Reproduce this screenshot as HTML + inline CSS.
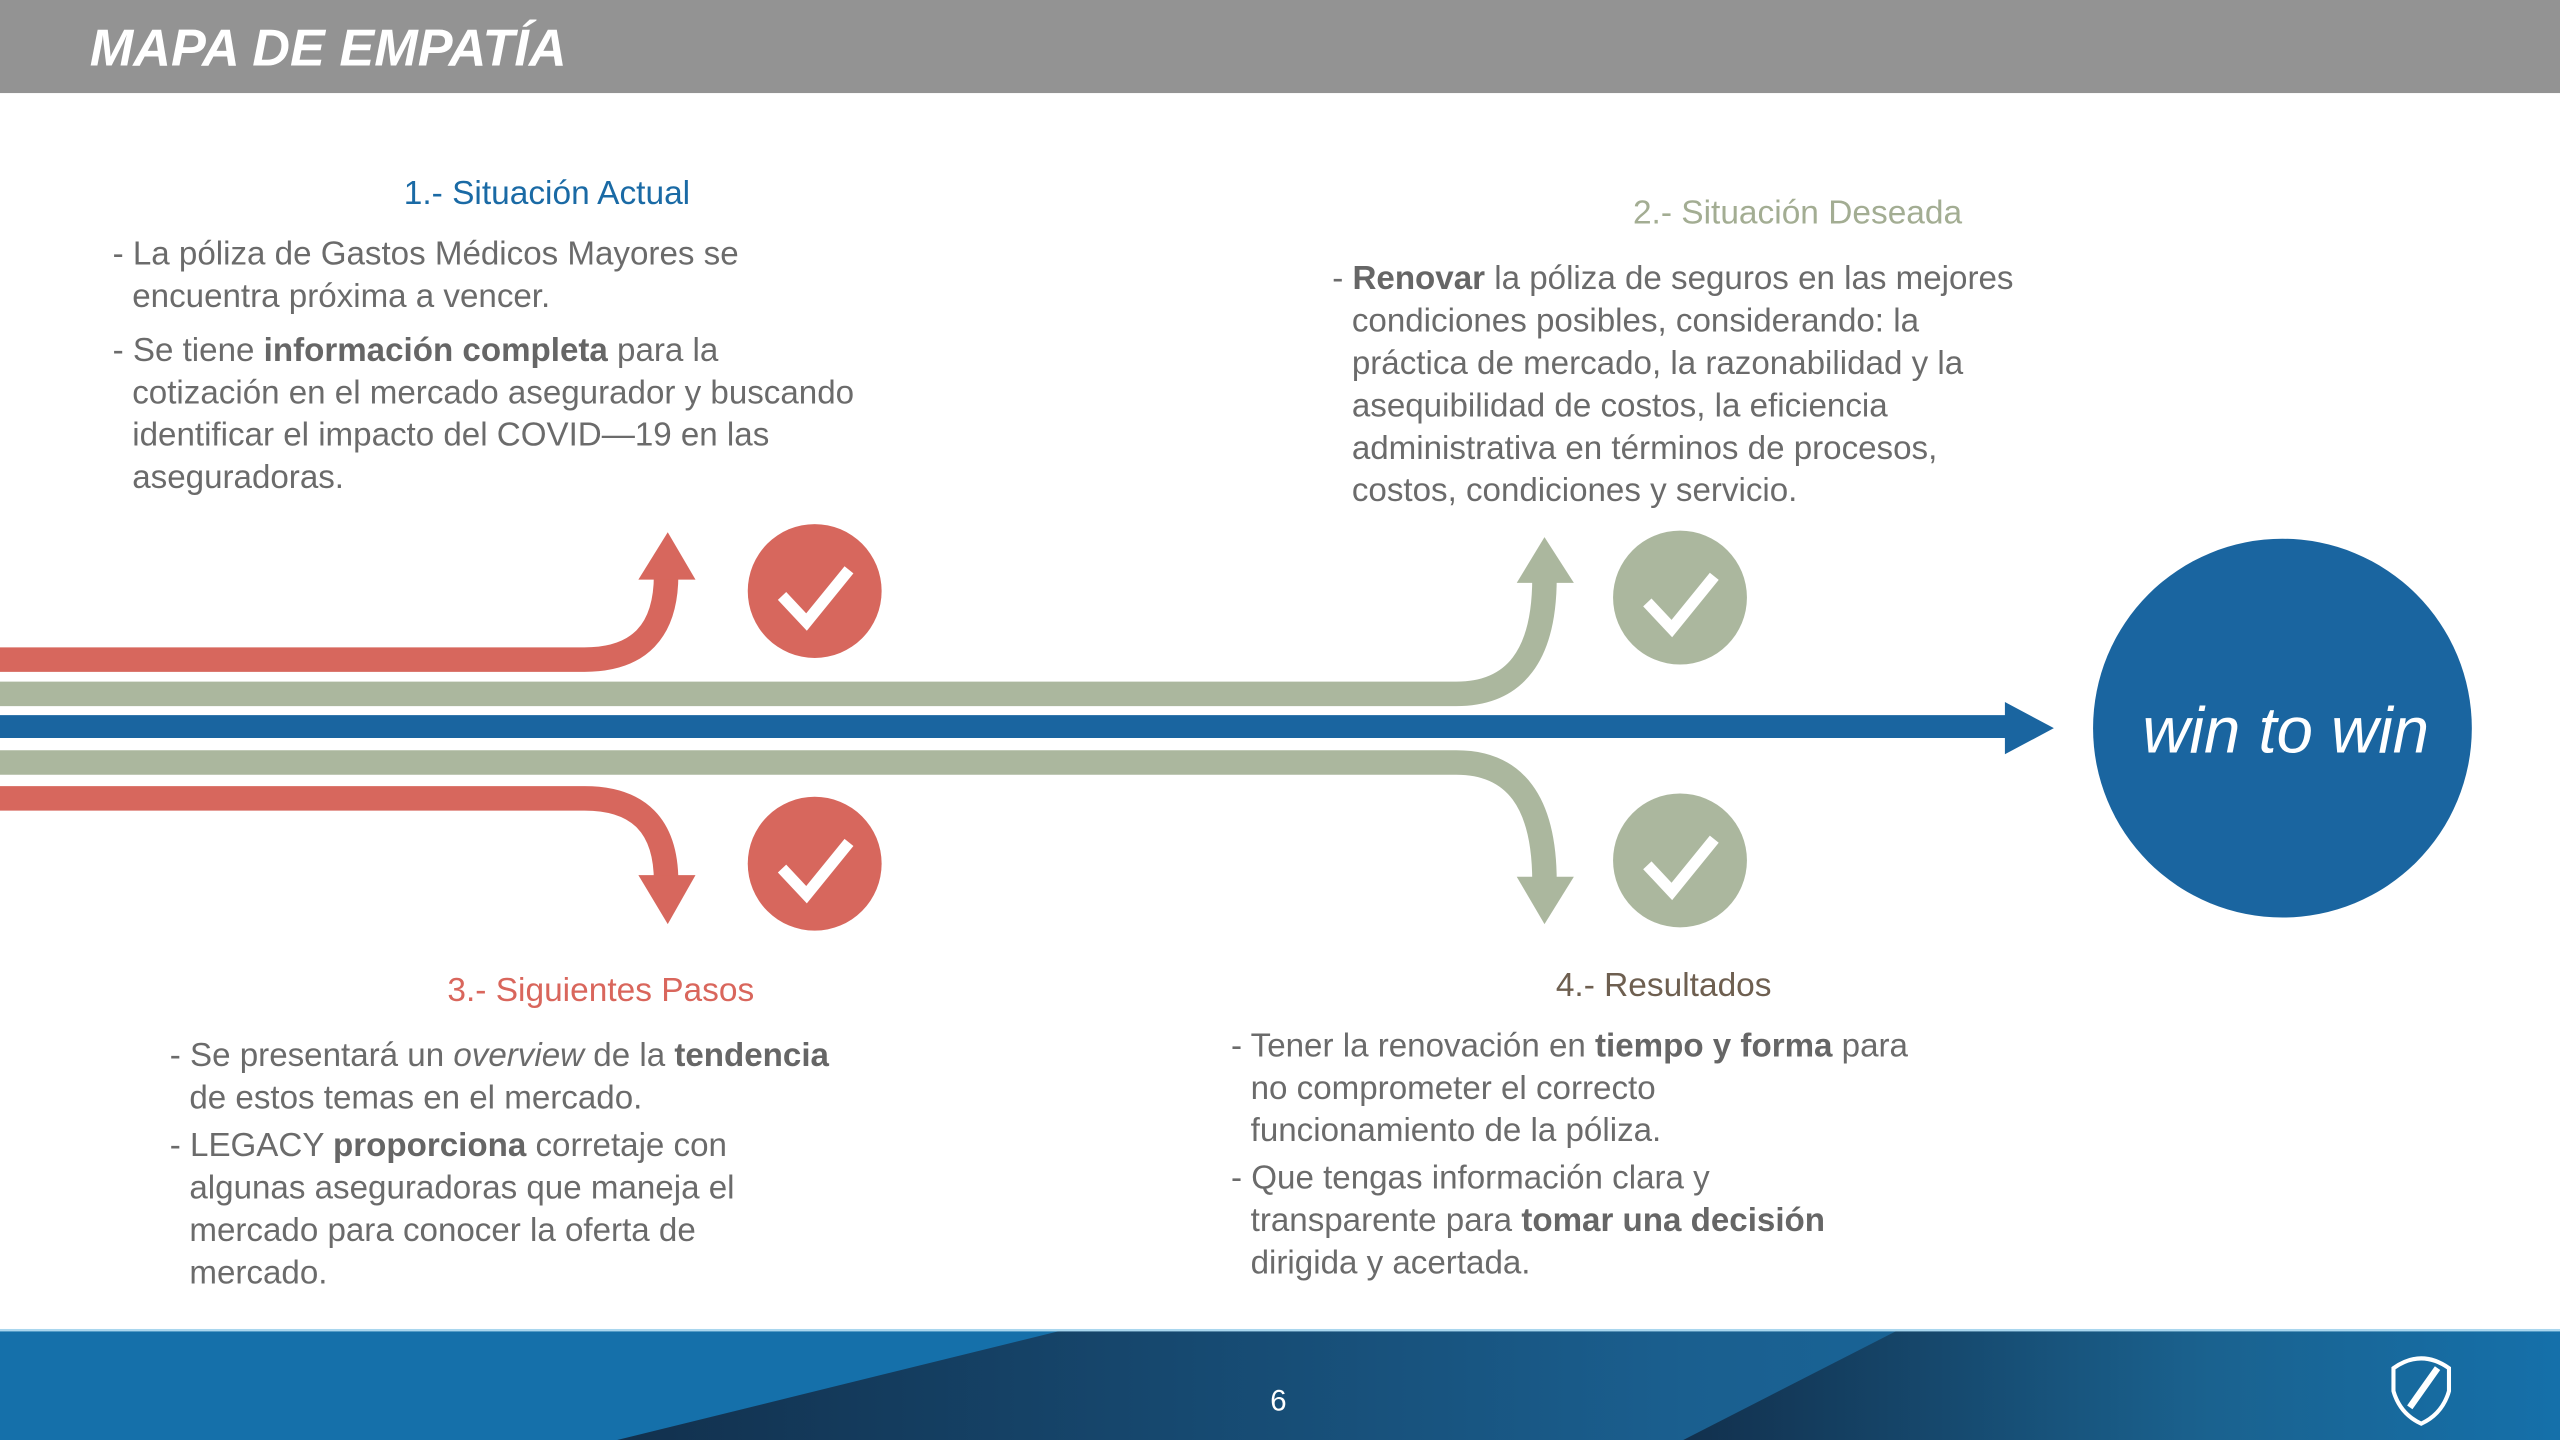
<!DOCTYPE html>
<html><head><meta charset="utf-8"><style>
html,body{margin:0;padding:0;background:#fff;}
body{width:2560px;height:1440px;overflow:hidden;position:relative;}
#s{position:absolute;left:0;top:0;width:1568px;height:882px;transform:scale(1.63265);transform-origin:0 0;}
svg text{font-family:"Liberation Sans",sans-serif;}
.t{font-size:20.3px;fill:#6b6b6b;letter-spacing:0px;}
.t tspan.b{font-weight:bold;fill:#666;}
.h{font-size:20.5px;text-anchor:middle;letter-spacing:0px;}
</style></head><body><div id="s">
<svg width="1568" height="882" viewBox="0 0 1568 882" xmlns="http://www.w3.org/2000/svg">
<defs>
<linearGradient id="g1" x1="0" y1="0" x2="1" y2="0"><stop offset="0" stop-color="#12304d"/><stop offset="0.55" stop-color="#1a5f8f"/><stop offset="1" stop-color="#1570aa"/></linearGradient>
<linearGradient id="g2" x1="0" y1="0" x2="1" y2="0"><stop offset="0" stop-color="#12304d"/><stop offset="0.6" stop-color="#1a628f"/><stop offset="1" stop-color="#1570aa"/></linearGradient>
</defs>
<rect x="0" y="0" width="1568" height="57" fill="#939393"/>
<text x="55" y="40" font-size="32" font-weight="bold" font-style="italic" fill="#fff">MAPA DE EMPATÍA</text>

<text class="h" x="335" y="125" fill="#1a6aa5">1.- Situación Actual</text>
<text class="t" x="69" y="162">- La póliza de Gastos Médicos Mayores se</text>
<text class="t" x="81" y="188">encuentra próxima a vencer.</text>
<text class="t" x="69" y="221">- Se tiene <tspan class="b">información completa</tspan> para la</text>
<text class="t" x="81" y="247">cotización en el mercado asegurador y buscando</text>
<text class="t" x="81" y="273">identificar el impacto del COVID—19 en las</text>
<text class="t" x="81" y="299">aseguradoras.</text>

<text class="h" x="1101" y="137" fill="#a3ad93">2.- Situación Deseada</text>
<text class="t" x="816" y="177">- <tspan class="b">Renovar</tspan> la póliza de seguros en las mejores</text>
<text class="t" x="828" y="203">condiciones posibles, considerando: la</text>
<text class="t" x="828" y="229">práctica de mercado, la razonabilidad y la</text>
<text class="t" x="828" y="255">asequibilidad de costos, la eficiencia</text>
<text class="t" x="828" y="281">administrativa en términos de procesos,</text>
<text class="t" x="828" y="307">costos, condiciones y servicio.</text>

<text class="h" x="368" y="613" fill="#d9665c">3.- Siguientes Pasos</text>
<text class="t" x="104" y="653">- Se presentará un <tspan font-style="italic">overview</tspan> de la <tspan class="b">tendencia</tspan></text>
<text class="t" x="116" y="679">de estos temas en el mercado.</text>
<text class="t" x="104" y="708">- LEGACY <tspan class="b">proporciona</tspan> corretaje con</text>
<text class="t" x="116" y="734">algunas aseguradoras que maneja el</text>
<text class="t" x="116" y="760">mercado para conocer la oferta de</text>
<text class="t" x="116" y="786">mercado.</text>

<text class="h" x="1019" y="610" fill="#6e5f50">4.- Resultados</text>
<text class="t" x="754" y="647">- Tener la renovación en <tspan class="b">tiempo y forma</tspan> para</text>
<text class="t" x="766" y="673">no comprometer el correcto</text>
<text class="t" x="766" y="699">funcionamiento de la póliza.</text>
<text class="t" x="754" y="728">- Que tengas información clara y</text>
<text class="t" x="766" y="754">transparente para <tspan class="b">tomar una decisión</tspan></text>
<text class="t" x="766" y="780">dirigida y acertada.</text>

<g fill="none" stroke-width="15">
<path d="M0,404 H358 Q408,404 408,352" stroke="#d7675d"/>
<path d="M0,425 H892 Q946,425 946,354" stroke="#abb79e"/>
<path d="M0,445 H1232" stroke="#1a65a0" stroke-width="14"/>
<path d="M0,467 H892 Q946,467 946,540" stroke="#abb79e"/>
<path d="M0,489 H358 Q408,489 408,540" stroke="#d7675d"/>
</g>
<polygon points="391,355 426,355 409,326" fill="#d7675d"/>
<polygon points="391,536 426,536 409,566" fill="#d7675d"/>
<polygon points="929,357 964,357 946,329" fill="#abb79e"/>
<polygon points="929,537 964,537 946,566" fill="#abb79e"/>
<polygon points="1228,430 1258,446 1228,462" fill="#1a65a0"/>

<g stroke="#fff" stroke-width="7" fill="none">
<circle cx="499" cy="362" r="41" fill="#d7675d" stroke="none"/>
<path d="M479,365 L494,381 L520,349"/>
<circle cx="499" cy="529" r="41" fill="#d7675d" stroke="none"/>
<path d="M479,532 L494,548 L520,516"/>
<circle cx="1029" cy="366" r="41" fill="#abb79e" stroke="none"/>
<path d="M1009,369 L1024,385 L1050,353"/>
<circle cx="1029" cy="527" r="41" fill="#abb79e" stroke="none"/>
<path d="M1009,530 L1024,546 L1050,514"/>
</g>

<circle cx="1398" cy="446" r="116" fill="#1a65a0"/>
<text x="1400" y="461" font-size="40" font-style="italic" fill="#fff" text-anchor="middle">win to win</text>

<rect x="0" y="815" width="1568" height="67" fill="#1570aa"/>
<polygon points="650,815 1568,815 1568,882 378,882" fill="url(#g1)"/>
<polygon points="1162,815 1568,815 1568,882 1031,882" fill="url(#g2)"/>
<rect x="0" y="814" width="1568" height="1.5" fill="#a9d6ee"/>
<text x="783" y="864" font-size="18" fill="#fff" text-anchor="middle">6</text>
<g fill="none" stroke="#fff" stroke-width="2.5">
<path d="M1466,838 Q1483,826 1500,838 L1500,852 Q1496,866 1483,872 Q1470,866 1466,852 Z"/>
<path d="M1476,862 L1493,838" stroke-width="4"/>
</g>
</svg>
</div></body></html>
